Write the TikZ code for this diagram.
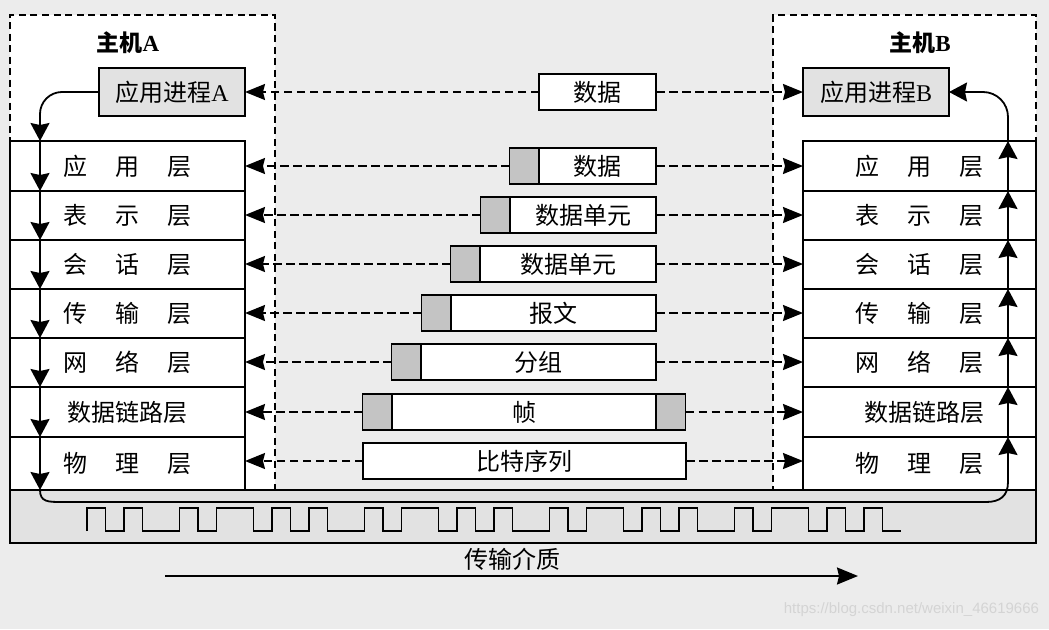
\documentclass[tikz,border=0pt]{standalone}
\usepackage{fontspec}
\setmainfont{Liberation Serif}
\newfontfamily\cjk{Noto Sans CJK SC}
\newfontfamily\wmfont{Liberation Sans}
\usetikzlibrary{arrows.meta,calc}
\definecolor{bgc}{RGB}{236,236,236}
\definecolor{boxgray}{RGB}{226,226,226}
\definecolor{hdrgray}{RGB}{196,196,196}
\definecolor{wmc}{RGB}{212,212,212}
\newcommand\threechars[3]{\makebox[52pt][l]{#1}\makebox[52pt][l]{#2}#3}
\begin{document}
\begin{tikzpicture}[x=1pt,y=-1pt,
  every node/.style={inner sep=0pt, outer sep=0pt},
  big/.style={font=\cjk\fontsize{24}{24}\selectfont},
  host/.style={draw, fill=white, line width=2pt, dash pattern=on 7pt off 4.5pt},
  layer/.style={big, draw, fill=white, line width=1.8pt},
  appbox/.style={big, draw, fill=boxgray, line width=1.8pt, minimum width=146pt, minimum height=48pt},
  msg/.style={big, draw, fill=white, line width=1.6pt, minimum height=36pt},
  hdr/.style={draw, fill=hdrgray, line width=1.6pt, minimum width=29.5pt, minimum height=36pt},
  peer/.style={line width=1.8pt, dash pattern=on 8.5pt off 4.5pt, -{Stealth[length=20pt,width=16pt,inset=2pt]}},
  flow/.style={line width=1.8pt, -{Stealth[length=18pt,width=19pt,inset=2pt]}},
]
\fill[bgc] (0,0) rectangle (1049,629);
\useasboundingbox (0,0) rectangle (1049,629);

% hosts
\node[host, minimum width=265pt, minimum height=475pt] (hostA) at (142.5,252.5) {};
\node[host, minimum width=263pt, minimum height=475pt] (hostB) at (904.5,252.5) {};
\node[font=\cjk\bfseries\fontsize{23}{23}\selectfont] (hAlbl) at (128,43) {主机{\rmfamily\bfseries A}};
\node[font=\cjk\bfseries\fontsize{23}{23}\selectfont] (hBlbl) at (920,43) {主机{\rmfamily\bfseries B}};

% medium
\node[draw, fill=boxgray, line width=1.8pt, minimum width=1026pt, minimum height=53pt] (medium) at (523,516.5) {};
\draw[line width=1.8pt] (87,531) |- (105.5,508) |- (124,531) |- (142.5,508) |- (179.5,531) |- (198,508) |- (216.5,531) |- (253.5,508) |- (272,531) |- (290.5,508) |- (309,531) |- (327.5,508) |- (364.5,531) |- (383,508) |- (401.5,531) |- (438.5,508) |- (457,531) |- (475.5,508) |- (494,531) |- (512.5,508) |- (549.5,531) |- (568,508) |- (586.5,531) |- (623.5,508) |- (642,531) |- (660.5,508) |- (679,531) |- (697.5,508) |- (734.5,531) |- (753,508) |- (771.5,531) |- (808.5,508) |- (827,531) |- (845.5,508) |- (864,531) |- (882.5,508) |- (901,531);

% layers A
\node[layer, minimum width=235pt, minimum height=50pt] (a1) at (127.5,166) {\threechars{应}{用}{层}};
\node[layer, minimum width=235pt, minimum height=49pt] (a2) at (127.5,215.5) {\threechars{表}{示}{层}};
\node[layer, minimum width=235pt, minimum height=49pt] (a3) at (127.5,264.5) {\threechars{会}{话}{层}};
\node[layer, minimum width=235pt, minimum height=49pt] (a4) at (127.5,313.5) {\threechars{传}{输}{层}};
\node[layer, minimum width=235pt, minimum height=49pt] (a5) at (127.5,362.5) {\threechars{网}{络}{层}};
\node[layer, minimum width=235pt, minimum height=50pt] (a6) at (127.5,412) {数据链路层};
\node[layer, minimum width=235pt, minimum height=53pt] (a7) at (127.5,463.5) {\threechars{物}{理}{层}};
% layers B
\node[layer, minimum width=233pt, minimum height=50pt] (b1) at (919.5,166) {\threechars{应}{用}{层}};
\node[layer, minimum width=233pt, minimum height=49pt] (b2) at (919.5,215.5) {\threechars{表}{示}{层}};
\node[layer, minimum width=233pt, minimum height=49pt] (b3) at (919.5,264.5) {\threechars{会}{话}{层}};
\node[layer, minimum width=233pt, minimum height=49pt] (b4) at (919.5,313.5) {\threechars{传}{输}{层}};
\node[layer, minimum width=233pt, minimum height=49pt] (b5) at (919.5,362.5) {\threechars{网}{络}{层}};
\node[layer, minimum width=233pt, minimum height=50pt] (b6) at (919.5,412) {\hspace*{10pt}数据链路层};
\node[layer, minimum width=233pt, minimum height=53pt] (b7) at (919.5,463.5) {\threechars{物}{理}{层}};

% application processes
\node[appbox] (appA) at (172,92) {应用进程{\rmfamily A}};
\node[appbox] (appB) at (876,92) {应用进程{\rmfamily B}};

% messages
\node[msg, minimum width=117pt] (m0) at (597.5,92) {数据};
\node[msg, minimum width=117pt] (m1) at (597.5,166) {数据};
\node[hdr, anchor=east] (h1) at (m1.west) {};
\node[msg, minimum width=146pt] (m2) at (583,215) {数据单元};
\node[hdr, anchor=east] (h2) at (m2.west) {};
\node[msg, minimum width=176pt] (m3) at (568,264) {数据单元};
\node[hdr, anchor=east] (h3) at (m3.west) {};
\node[msg, minimum width=205pt] (m4) at (553.5,313) {报文};
\node[hdr, anchor=east] (h4) at (m4.west) {};
\node[msg, minimum width=235pt] (m5) at (538.5,362) {分组};
\node[hdr, anchor=east] (h5) at (m5.west) {};
\node[msg, minimum width=264pt] (m6) at (524,412) {帧};
\node[hdr, anchor=east] (h6) at (m6.west) {};
\node[hdr, anchor=west] (t6) at (m6.east) {};
\node[msg, minimum width=323pt] (m7) at (524.5,461) {比特序列};

% peer arrows
\draw[peer] (m0.west) -- (m0.west -| appA.east);
\draw[peer] (m0.east) -- (m0.east -| appB.west);
\draw[peer] (h1.west) -- (h1.west -| a1.east);
\draw[peer] (m1.east) -- (m1.east -| b1.west);
\draw[peer] (h2.west) -- (h2.west -| a2.east);
\draw[peer] (m2.east) -- (m2.east -| b2.west);
\draw[peer] (h3.west) -- (h3.west -| a3.east);
\draw[peer] (m3.east) -- (m3.east -| b3.west);
\draw[peer] (h4.west) -- (h4.west -| a4.east);
\draw[peer] (m4.east) -- (m4.east -| b4.west);
\draw[peer] (h5.west) -- (h5.west -| a5.east);
\draw[peer] (m5.east) -- (m5.east -| b5.west);
\draw[peer] (h6.west) -- (h6.west -| a6.east);
\draw[peer] (t6.east) -- (t6.east -| b6.west);
\draw[peer] (m7.west) -- (m7.west -| a7.east);
\draw[peer] (m7.east) -- (m7.east -| b7.west);

% data flow
\coordinate (laneA) at (40,0);
\coordinate (laneB) at (1008,0);
\coordinate (bl) at (62,502);
\coordinate (br) at (986,502);
\coordinate (bu) at (1008,482);
\draw[flow, rounded corners=22pt] (appA.west) -| (a1.north -| laneA);
\foreach \u/\v in {a1/a2,a2/a3,a3/a4,a4/a5,a5/a6,a6/a7}
  \draw[flow] (\u.north -| laneA) -- (\v.north -| laneA);
\draw[flow] (a7.north -| laneA) -- (a7.south -| laneA);
\draw[flow] (a7.south -| laneA) .. controls +(0,12) and +(-14,0) .. (bl) -- (br) .. controls +(14,0) and +(0,14) .. (bu) -- (b7.north -| laneB);
\foreach \u/\v in {b7/b6,b6/b5,b5/b4,b4/b3,b3/b2,b2/b1}
  \draw[flow] (\u.north -| laneB) -- (\v.north -| laneB);
\draw[flow, rounded corners=25pt] (b1.north -| laneB) |- (appB.east);

% transmission medium
\node[big] (tm) at (512,559) {传输介质};
\coordinate (tmS) at (165,576);
\coordinate (tmE) at (858,576);
\draw[line width=1.8pt, -{Stealth[length=21pt,width=17pt,inset=2pt]}] (tmS) -- (tmE);

\node[font=\wmfont\fontsize{15}{15}\selectfont, text=wmc, anchor=east] (wm) at (1039,610) {https://blog.csdn.net/weixin\_46619666};
\end{tikzpicture}
\end{document}
